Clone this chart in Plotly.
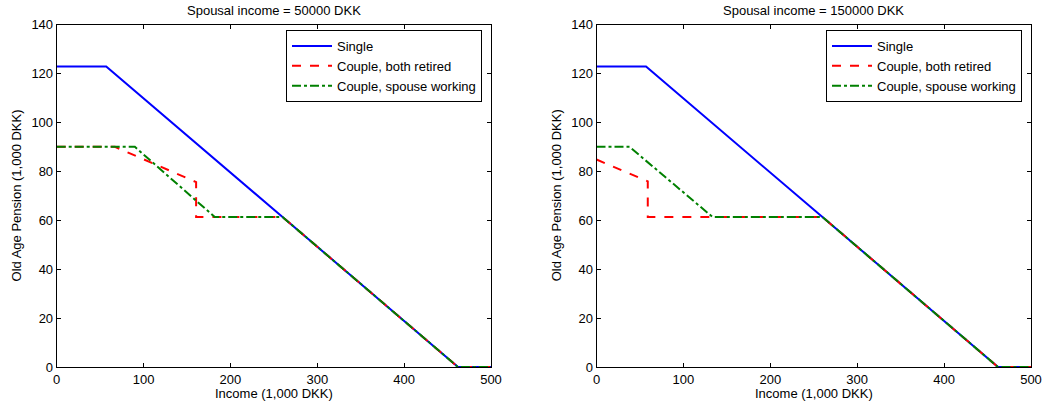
import plotly.graph_objects as go

# ---- data (1,000 DKK) ----
panel_titles = ["Spousal income = 50000 DKK", "Spousal income = 150000 DKK"]
series_names = ["Single", "Couple, both retired", "Couple, spouse working"]

single_x = [0, 57, 260, 462, 500]
single_y = [122.8, 122.8, 61.3, 0, 0]

# left panel (spouse income 50000)
ret50_x = [0, 67, 160.5, 160.5, 260, 462, 500]
ret50_y = [90, 90, 75.6, 61.3, 61.3, 0, 0]
work50_x = [0, 90, 182, 260, 462, 500]
work50_y = [90, 90, 61.3, 61.3, 0, 0]

# right panel (spouse income 150000)
ret150_x = [0, 59, 59, 260, 462, 500]
ret150_y = [84.8, 75.9, 61.3, 61.3, 0, 0]
work150_x = [0, 38, 133.6, 260, 462, 500]
work150_y = [90, 90, 61.3, 61.3, 0, 0]

x_ticks = [0, 100, 200, 300, 400, 500]
y_ticks = [0, 20, 40, 60, 80, 100, 120, 140]

colors = ["#0000ff", "#ff0000", "#008000"]
dashes = ["solid", "dash", "dashdot"]

W, H = 1043, 410
FONT = "Liberation Sans, Arial, sans-serif"
FS = 13


def px(sx):
    return sx / W


def py(sy):
    return 1 - sy / H


fig = go.Figure()

panels = [
    [(single_x, single_y), (ret50_x, ret50_y), (work50_x, work50_y)],
    [(single_x, single_y), (ret150_x, ret150_y), (work150_x, work150_y)],
]

x_domains = [[px(56.7), px(491)], [px(596.5), px(1031)]]
y_domain = [py(367), py(24.5)]

for p, series in enumerate(panels):
    xa = "x" if p == 0 else "x2"
    ya = "y" if p == 0 else "y2"
    lg = "legend" if p == 0 else "legend2"
    for i, (xs, ys) in enumerate(series):
        fig.add_trace(go.Scatter(
            x=xs, y=ys, mode="lines", name=series_names[i],
            line=dict(color=colors[i], width=2, dash=dashes[i]),
            xaxis=xa, yaxis=ya, legend=lg, showlegend=True,
        ))

axis_common = dict(
    showline=True, linecolor="black", linewidth=1, mirror="ticks",
    ticks="inside", ticklen=4, tickcolor="black", showgrid=False, zeroline=False,
    automargin=False,
    tickfont=dict(family=FONT, size=FS, color="black"),
)

legend_common = dict(
    xanchor="right", yanchor="top",
    bordercolor="black", borderwidth=1, bgcolor="white",
    font=dict(family=FONT, size=FS), tracegroupgap=0, itemwidth=40,
)

layout = dict(
    template="none",
    width=W, height=H,
    margin=dict(l=0, r=0, t=0, b=0, autoexpand=False),
    paper_bgcolor="white", plot_bgcolor="white",
    font=dict(family=FONT, size=FS, color="black"),
    xaxis=dict(domain=x_domains[0], range=[0, 500], tickvals=x_ticks, anchor="y", **axis_common),
    yaxis=dict(domain=y_domain, range=[0, 140], tickvals=y_ticks, anchor="x", **axis_common),
    xaxis2=dict(domain=x_domains[1], range=[0, 500], tickvals=x_ticks, anchor="y2", **axis_common),
    yaxis2=dict(domain=y_domain, range=[0, 140], tickvals=y_ticks, anchor="x2", **axis_common),
    legend=dict(x=px(482), y=py(30), **legend_common),
    legend2=dict(x=px(1022), y=py(30), **legend_common),
)
fig.update_layout(**layout)

annotations = []
for p in range(2):
    cx = (x_domains[p][0] + x_domains[p][1]) / 2
    annotations.append(dict(text=panel_titles[p], x=cx, y=py(10), xref="paper", yref="paper",
                            showarrow=False, xanchor="center", yanchor="middle",
                            font=dict(family=FONT, size=FS)))
    annotations.append(dict(text="Income (1,000 DKK)", x=cx, y=py(393), xref="paper", yref="paper",
                            showarrow=False, xanchor="center", yanchor="middle",
                            font=dict(family=FONT, size=FS)))
    annotations.append(dict(text="Old Age Pension (1,000 DKK)", x=(x_domains[p][0] * W - 40) / W,
                            y=(y_domain[0] + y_domain[1]) / 2, xref="paper", yref="paper",
                            showarrow=False, xanchor="center", yanchor="middle", textangle=-90,
                            font=dict(family=FONT, size=FS)))
fig.update_layout(annotations=annotations)

fig.write_html(
    "out.html",
    config={"displayModeBar": False},
    post_script="document.body.style.margin='0';document.body.style.overflow='hidden';",
)
